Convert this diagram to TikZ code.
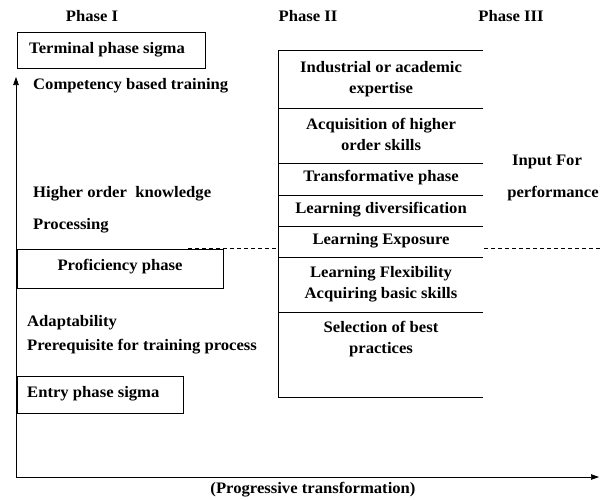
\documentclass[tikz,border=0pt]{standalone}
\usepackage{fontspec}
\setmainfont[FakeStretch=1.04]{Liberation Serif}
\usetikzlibrary{arrows.meta}
\begin{document}
\begin{tikzpicture}[x=1pt,y=-1pt,
  txt/.style={font=\bfseries\fontsize{16}{21}\selectfont, inner sep=0pt},
  lbl/.style={txt, anchor=west},
  ctr/.style={txt, align=center},
  rowline/.style={line width=0.7pt},
  boxline/.style={line width=0.7pt},
  axis/.style={line width=0.7pt, -{Triangle[length=8pt,width=5.5pt]}},
  dashln/.style={line width=0.7pt, dash pattern=on 4pt off 3pt}]
\useasboundingbox (0,0) rectangle (610,499);
% headings
\node[txt] (p1) at (92,16) {Phase I};
\node[txt] (p2) at (308,16) {Phase II};
\node[txt] (p3) at (511,16) {Phase III};
% axes
\coordinate (o) at (16,477);
\coordinate (ytop) at (16,77);
\coordinate (xend) at (599,477);
\draw[axis] (o) -- (ytop);
\draw[axis] (o) -- (xend);
\node[txt] (xl) at (313,490) {(Progressive transformation)};
% Phase I boxes
\draw[boxline] (17,32) rectangle (205,68);
\node[lbl] (term) at (29,50) {Terminal phase sigma};
\draw[boxline] (17,249) rectangle (223,288);
\node[ctr] (prof) at (120,267) {Proficiency phase};
\draw[boxline] (17,376) rectangle (183,413);
\node[lbl] (entry) at (27,394) {Entry phase sigma};
% Phase I texts
\node[lbl] (comp) at (33,86) {Competency based training};
\node[lbl] (hok) at (33,194) {Higher order\ \ knowledge};
\node[lbl] (proc) at (33,226) {Processing};
\node[lbl] (adap) at (27,323) {Adaptability};
\node[lbl] (prer) at (27,347) {Prerequisite for training process};
% Phase II column
\coordinate (ct) at (278,50);
\coordinate (cb) at (278,397);
\draw[rowline] (ct) -- (cb);
\foreach \yy in {50,108,163,195,226,257,312,397}
  \draw[rowline] (278,\yy) -- (483,\yy);
\node[ctr] (r1) at (381,79) {Industrial or academic\\expertise};
\node[ctr] (r2) at (381,134) {Acquisition of higher\\order skills};
\node[ctr] (r3) at (381,178) {Transformative phase};
\node[ctr] (r4) at (381,210) {Learning diversification};
\node[ctr] (r5) at (381,241) {Learning Exposure};
\node[ctr] (r6) at (381,284) {Learning Flexibility\\Acquiring basic skills};
\node[ctr] (r7) at (381,339) {Selection of best\\practices};
% Phase III
\node[txt] (inp) at (547,162) {Input For};
\node[txt] (perf) at (553,194) {performance};
% dashed line
\coordinate (dl1) at (188,248);
\coordinate (dl2) at (277,248);
\coordinate (dr1) at (484,248);
\coordinate (dr2) at (600,248);
\draw[dashln] (dl1) -- (dl2);
\draw[dashln] (dr1) -- (dr2);
\end{tikzpicture}
\end{document}
